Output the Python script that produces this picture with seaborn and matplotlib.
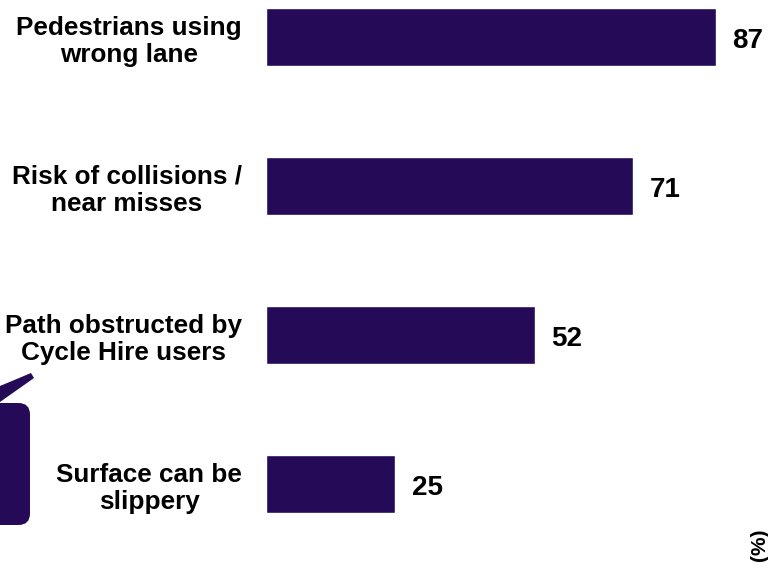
import matplotlib
matplotlib.use("Agg")
import matplotlib.pyplot as plt
import seaborn as sns
import pandas as pd
from matplotlib.patches import FancyBboxPatch, Polygon

categories = ["Pedestrians using\nwrong lane", "Risk of collisions /\nnear misses",
              "Path obstructed by\nCycle Hire users", "Surface can be\nslippery"]
values = [87, 71, 52, 25]
bar_color = "#250a58"

sns.set_theme(style="white")
plt.rcParams['font.family'] = ['Liberation Sans', 'DejaVu Sans']

df = pd.DataFrame({"cat": categories, "val": values})

W, H = 768, 569
fig = plt.figure(figsize=(W / 100, H / 100), dpi=100)
ax = fig.add_axes([266 / W, 0, 1 - 266 / W, 1])
sns.barplot(data=df, x="val", y="cat", orient="h", color=bar_color, width=0.39,
            saturation=1, ax=ax)
ax.set_xlim(0, 502 / 5.172)
ax.set_ylim((H - 37) / 149, -37 / 149)
for s in ax.spines.values():
    s.set_visible(False)
ax.set_xticks([])
ax.set_xlabel("")
ax.set_ylabel("")
ax.tick_params(axis="y", length=0, pad=17.3)
for lbl in ax.get_yticklabels():
    lbl.set_fontsize(18.8)
    lbl.set_fontweight("bold")
    lbl.set_multialignment("center")
    lbl.set_linespacing(1.2)
    lbl.set_color("black")

for i, v in enumerate(values):
    ax.text(v + 3.2, i + 0.025, str(v), ha="left", va="center", fontsize=20,
            fontweight="bold", color="black")

# decorative callout at left edge
rect = FancyBboxPatch((-20 / W, (H - 525) / H), 50 / W, 122 / H,
                      boxstyle="round,pad=0,rounding_size=0.015",
                      transform=fig.transFigure, facecolor=bar_color,
                      edgecolor="none", clip_on=False, mutation_aspect=W / H)
fig.patches.append(rect)
tri = Polygon([(0, (H - 386) / H), (31 / W, (H - 373) / H), (34 / W, (H - 378) / H),
               (0, (H - 402) / H)], closed=True, transform=fig.transFigure,
              facecolor=bar_color, edgecolor="none")
fig.patches.append(tri)

fig.text(759 / W, (H - 545) / H, "(%)", rotation=90, ha="center", va="center",
         fontsize=15, fontweight="bold", color="black")

fig.savefig("out.png", dpi=100)
